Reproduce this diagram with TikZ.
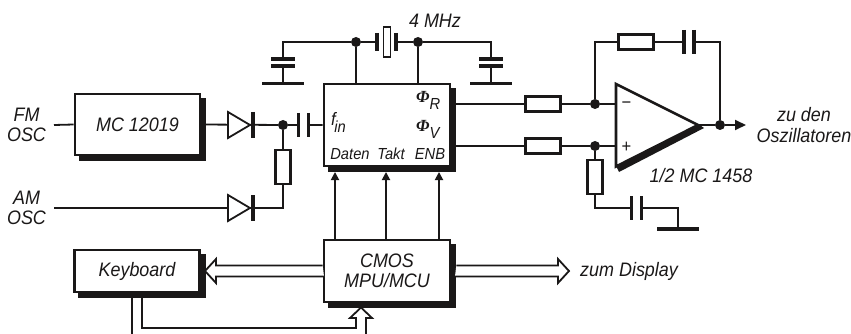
\documentclass[tikz,border=0pt]{standalone}
\usepackage{fontspec}
\setmainfont[FakeStretch=0.92]{Liberation Sans}
\newfontfamily\phifont{Liberation Serif}
\usepackage{tikz}
\usetikzlibrary{arrows.meta,shadows}
\definecolor{ink}{HTML}{1A1818}
\tikzset{
  wire/.style={ink,line width=1.8pt},
  plate/.style={ink,line width=3.2pt},
  lab/.style={inner sep=0pt,align=center,text=ink,font=\fontsize{19.5}{20.5}\selectfont\itshape},
  smalllab/.style={inner sep=0pt,text=ink,font=\fontsize{16}{18}\selectfont\itshape},
  blockbox/.style={draw=ink,fill=white,line width=2.6pt,inner sep=0pt,lab,
    copy shadow={shadow xshift=5pt,shadow yshift=-5pt,draw=ink,fill=ink}},
  resbox/.style={draw=ink,fill=white,line width=2.4pt,inner sep=0pt},
  dot/.style={circle,fill=ink,inner sep=0pt,minimum size=10pt},
  sig/.style={wire,-{Triangle[length=8pt,width=8pt]},shorten >=0pt},
  pics/hcap/.style={code={
    \fill[white] (-5,-7) rectangle (5,7);
    \draw[plate] (-5,-12)--(-5,12);
    \draw[plate] (5,-12)--(5,12);}},
  pics/vcap/.style={code={
    \fill[white] (-7,-3.5) rectangle (7,3.5);
    \draw[plate] (-12,-3.5)--(12,-3.5);
    \draw[plate] (-12,3.5)--(12,3.5);}},
  pics/ground/.style={code={\draw[plate] (-21,0)--(21,0);}},
  pics/diode/.style={code={
    \draw[ink,line width=1.8pt,fill=white] (-11,-13)--(11,0)--(-11,13)--cycle;
    \draw[plate] (14,-13)--(14,13);}},
}
\begin{document}
\begin{tikzpicture}[x=1pt,y=-1pt]
  \useasboundingbox (0,0) rectangle (851,334);
  \node[blockbox,minimum width=125pt,minimum height=61pt] (synth) at (137.5,124.5) {};
  \node[blockbox,minimum width=126pt,minimum height=82pt] (pll) at (387,125) {};
  \node[blockbox,minimum width=125pt,minimum height=42pt] (keys) at (137,271) {};
  \node[blockbox,minimum width=126pt,minimum height=62pt] (cmos) at (387,271) {};

  \coordinate (fm) at (54,125);
  \coordinate (am) at (54,208);
  \coordinate (amend) at (283,208);
  \coordinate (gndl) at (283,83);
  \coordinate (gndr) at (491,83);
  \coordinate (topl) at (283,42);
  \coordinate (topr) at (491,42);
  \coordinate (fbl) at (595,42);
  \coordinate (fbr) at (720,42);
  \coordinate (rcl) at (595,208);
  \coordinate (rcr) at (678,208);
  \coordinate (gndo) at (678,229);
  \coordinate (oneg) at (616,104);
  \coordinate (opos) at (616,146);
  \coordinate (oout) at (699,125);
  \coordinate (otip) at (746,125);
  \coordinate (dat) at (335,172);
  \coordinate (tak) at (386,172);
  \coordinate (enb) at (439,172);
  \node[dot] (jin) at (283,125) {};
  \node[dot] (jxl) at (356,42) {};
  \node[dot] (jxr) at (418,42) {};
  \node[dot] (jneg) at (595,104) {};
  \node[dot] (jpos) at (595,146) {};
  \node[dot] (jout) at (720,125) {};

  \draw[wire] (fm) -- (synth.west);
  \draw[wire] (synth.east) -- (jin) -- (pll.west);
  \draw[wire] (am) -- (amend) -- (jin);
  \draw[wire] (gndl) -- (topl) -- (jxl) -- (jxr) -- (topr) -- (gndr);
  \draw[wire] (jxl) -- (jxl |- pll.north);
  \draw[wire] (jxr) -- (jxr |- pll.north);
  \draw[wire] (pll.east |- jneg) -- (jneg) -- (oneg);
  \draw[wire] (pll.east |- jpos) -- (jpos) -- (opos);
  \draw[wire] (jneg) -- (fbl) -- (fbr) -- (jout);
  \draw[wire] (jpos) -- (rcl) -- (rcr) -- (gndo);
  \draw[wire] (oout) -- (jout);
  \draw[wire,-{Triangle[length=11pt,width=10pt]}] (jout) -- (otip);
  \draw[sig] (dat |- cmos.north) -- (dat);
  \draw[sig] (tak |- cmos.north) -- (tak);
  \draw[sig] (enb |- cmos.north) -- (enb);

  \pic at (239,125) {diode};
  \pic at (239,208) {diode};
  \pic at (303.5,125) {hcap};
  \pic at (283,62.5) {vcap};
  \pic at (491,62.5) {vcap};
  \pic at (283,83.5) {ground};
  \pic at (491,83.5) {ground};
  \pic at (689,42) {hcap};
  \pic at (636.5,208) {hcap};
  \pic at (678,229) {ground};

  \fill[white] (378,33) rectangle (395,51);
  \draw[plate] (377,33)--(377,51);
  \draw[plate] (396,33)--(396,51);
  \node[resbox,minimum width=7pt,minimum height=30pt,line width=1.8pt] (xtal) at (387,42) {};

  \node[resbox,minimum width=15pt,minimum height=34pt] (r1) at (283,167) {};
  \node[resbox,minimum width=35pt,minimum height=15pt] (r2) at (543,104) {};
  \node[resbox,minimum width=35pt,minimum height=15pt] (r3) at (543,146) {};
  \node[resbox,minimum width=35pt,minimum height=15pt] (r4) at (636,42) {};
  \node[resbox,minimum width=15pt,minimum height=34pt] (r5) at (595,177) {};

  \fill[ink] (616,166) -- (619,172) -- (704,128) -- (699,124.5) -- cycle;
  \draw[ink,line width=2.6pt,fill=white,line join=miter] (616,84) -- (698,125) -- (616,166.5) -- cycle;
  \node[inner sep=0pt,text=ink,font=\fontsize{18}{20}\selectfont] (minus) at (626.5,105) {−};
  \node[inner sep=0pt,text=ink,font=\fontsize{18}{20}\selectfont] (plus) at (626.5,147) {+};

  \draw[wire,fill=white] (cmos.east) ++(5,-5.5) -- (558,265.5) -- (558,259) -- (569,271) -- (558,283) -- (558,276.5) -- (455,276.5);
  \draw[wire,fill=white] (cmos.west) ++(0,-5.5) -- (216,265.5) -- (216,259) -- (205,271) -- (216,283) -- (216,276.5) -- (324,276.5);
  \draw[wire] (132,297) -- (132,334);
  \draw[wire] (142,297) -- (142,328) -- (356,328) -- (356,318) -- (350,318) -- (361,307.5) -- (372,318) -- (366,318) -- (366,334);

  \node[lab] (fmlab) at (26.5,125) {FM\\OSC};
  \node[lab] (amlab) at (26.5,208) {AM\\OSC};
  \node[lab] at (synth) {MC 12019};
  \node[lab] at (keys) {Keyboard};
  \node[lab] at (cmos) {CMOS\\MPU/MCU};
  \node[lab,anchor=west] (dsp) at (580,271) {zum Display};
  \node[lab] (osc) at (804,125) {zu den\\Oszillatoren};
  \node[lab] (mpy) at (701,176) {1/2 MC 1458};
  \node[lab] (mhz) at (435,21) {4 MHz};
  \node[smalllab,anchor=west] (fin) at (331,122) {\fontsize{18}{20}\selectfont f\kern-1.5pt\raisebox{-7pt}{\fontsize{16}{18}\selectfont in}};
  \node[smalllab,anchor=base] (dlab) at (350,160) {Daten};
  \node[smalllab,anchor=base] (tlab) at (391,160) {Takt};
  \node[smalllab,anchor=base] (elab) at (430,160) {ENB};
  \node[smalllab,anchor=west] (phir) at (416,100) {{\phifont\bfseries\fontsize{17}{20}\selectfont Φ}\raisebox{-7pt}{R}};
  \node[smalllab,anchor=west] (phiv) at (416,129) {{\phifont\bfseries\fontsize{17}{20}\selectfont Φ}\raisebox{-7pt}{V}};
\end{tikzpicture}
\end{document}
